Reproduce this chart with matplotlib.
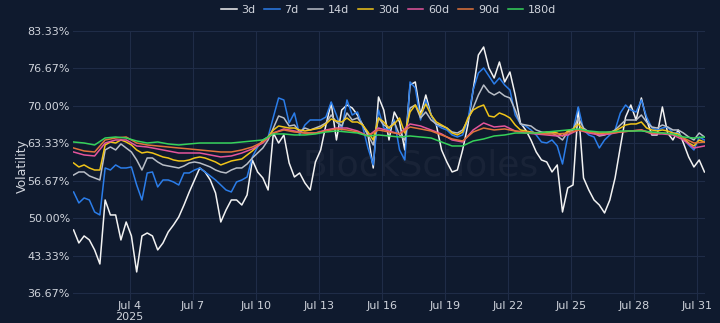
import pandas as pd
import matplotlib
matplotlib.use("Agg")
import matplotlib.pyplot as plt

# implied volatility by tenor, July 2025 (values in %)
t6 = pd.date_range("2025-07-01 08:00", periods=121, freq="6h")
t12 = pd.date_range("2025-07-01 08:00", periods=61, freq="12h")

vol_3d = [47.89, 45.57, 46.82, 46.11, 44.33, 41.83, 53.23, 50.56, 50.56, 46.11,
          49.31, 46.82, 40.41, 46.82, 47.35, 46.82, 44.33, 45.57, 47.53, 48.78,
          50.2, 52.34, 54.66, 56.79, 58.93, 58.22, 56.79, 54.48, 49.31, 51.45,
          53.23, 53.23, 52.34, 54.12, 60.36, 58.22, 57.15, 55.01, 65.16, 63.38,
          64.81, 59.82, 57.33, 58.04, 56.26, 55.01, 60.0, 62.14, 66.59, 70.51,
          63.92, 69.26, 70.15, 69.62, 68.37, 66.59, 64.81, 58.93, 71.58, 69.26,
          63.92, 68.9, 67.12, 62.14, 73.71, 74.25, 68.37, 71.93, 68.37, 66.59,
          62.14, 60.0, 58.22, 58.57, 62.14, 66.59, 72.82, 79.06, 80.48, 76.74,
          74.96, 77.81, 74.25, 76.03, 71.93, 66.95, 65.7, 63.92, 61.78, 60.36,
          60.0, 58.22, 59.47, 51.09, 55.37, 55.9, 69.62, 57.15, 55.01, 53.23,
          52.34, 50.92, 53.23, 57.15, 62.67, 68.01, 70.15, 67.48, 71.4, 67.48,
          64.81, 64.81, 69.8, 65.16, 63.92, 65.7, 63.38, 60.89, 59.11, 60.36,
          58.22]
vol_7d = [54.66, 52.7, 53.59, 53.23, 51.09, 50.56, 58.93, 58.57, 59.47, 58.93,
          58.93, 59.11, 55.9, 53.23, 58.04, 58.22, 55.55, 56.79, 56.79, 56.44,
          55.9, 58.04, 58.04, 58.57, 58.93, 58.22, 57.51, 56.79, 55.9, 55.01,
          54.66, 56.44, 56.79, 57.33, 60.89, 62.67, 63.92, 64.45, 68.01, 71.4,
          71.04, 66.95, 68.73, 64.81, 66.59, 67.48, 67.48, 67.48, 68.01, 70.69,
          68.37, 65.7, 71.04, 68.37, 68.9, 66.23, 62.49, 59.47, 69.26, 66.05,
          65.7, 67.48, 62.14, 60.36, 74.25, 73.18, 67.48, 71.04, 68.37, 66.59,
          66.05, 65.7, 64.81, 64.45, 64.81, 67.48, 72.82, 75.85, 76.74, 75.32,
          73.89, 74.96, 73.71, 72.82, 68.37, 66.77, 66.41, 65.7, 64.81, 63.56,
          63.38, 63.92, 62.85, 59.64, 64.63, 65.7, 69.8, 65.7, 64.81, 64.45,
          62.49, 63.92, 64.81, 65.7, 68.73, 70.15, 69.26, 68.9, 71.04, 68.01,
          66.05, 65.7, 66.05, 66.23, 65.16, 65.16, 64.27, 63.03, 62.14, 64.45,
          63.92]
vol_14d = [57.68, 58.22, 58.22, 57.51, 57.15, 56.79, 62.14, 62.67, 62.14, 63.21,
           62.49, 61.78, 60.36, 58.57, 60.71, 60.71, 60.0, 59.47, 59.29, 59.11,
           58.93, 59.29, 59.82, 60.0, 59.82, 59.47, 59.11, 58.57, 58.22, 58.04,
           58.57, 58.93, 58.93, 59.64, 60.71, 61.6, 62.49, 63.92, 66.05, 68.19,
           67.84, 66.41, 66.59, 65.34, 66.05, 65.7, 66.05, 66.41, 66.95, 68.37,
           67.12, 66.41, 68.73, 67.48, 67.84, 66.59, 64.81, 63.03, 67.84, 66.59,
           66.05, 67.12, 64.81, 63.92, 69.62, 70.15, 67.84, 68.9, 67.48, 66.77,
           66.41, 66.05, 65.34, 65.16, 65.7, 67.48, 69.62, 71.93, 73.71, 72.47,
           71.93, 72.47, 71.75, 71.4, 69.26, 66.77, 66.59, 66.41, 65.7, 65.34,
           65.16, 65.16, 64.63, 63.92, 65.34, 65.7, 67.84, 66.05, 65.34, 65.16,
           64.63, 64.81, 65.16, 65.7, 66.59, 67.48, 67.48, 67.48, 68.37, 67.12,
           66.23, 66.05, 66.59, 66.23, 65.7, 65.7, 65.16, 64.45, 63.92, 65.16,
           64.45]
vol_30d = [59.82, 59.11, 59.47, 58.93, 58.57, 58.57, 63.03, 63.56, 63.38, 63.92,
           63.56, 63.03, 62.14, 61.6, 61.78, 61.6, 61.25, 60.89, 60.71, 60.36,
           60.18, 60.18, 60.36, 60.71, 60.89, 60.71, 60.36, 60.0, 59.47, 59.82,
           60.18, 60.36, 60.53, 61.25, 61.96, 62.85, 63.74, 64.45, 65.7, 66.41,
           66.23, 66.05, 66.05, 65.7, 65.52, 65.7, 65.88, 66.05, 66.77, 67.66,
           67.3, 67.12, 67.84, 67.12, 67.12, 66.59, 65.34, 63.92, 67.84, 67.12,
           66.05, 66.77, 67.84, 65.16, 68.9, 70.15, 68.37, 70.33, 68.37, 67.12,
           66.59, 66.05, 65.16, 64.81, 65.34, 67.84, 69.26, 69.8, 70.15, 68.19,
           68.01, 68.73, 68.37, 67.84, 66.59, 65.7, 65.52, 65.34, 65.16, 65.16,
           65.34, 65.34, 65.16, 64.63, 65.52, 65.88, 66.77, 65.7, 65.34, 65.34,
           64.99, 65.16, 65.34, 65.52, 66.05, 66.59, 66.77, 66.77, 67.12, 66.05,
           65.7, 65.52, 65.7, 65.52, 65.16, 64.99, 64.27, 63.38, 62.85, 63.92,
           63.56]
vol_60d = [61.78, 61.25, 61.07, 63.38, 63.92, 63.92, 62.85, 62.67, 62.32, 61.96,
           61.6, 61.6, 61.6, 61.25, 60.89, 61.07, 61.6, 62.32, 63.38, 65.16,
           65.88, 65.52, 65.16, 65.16, 65.7, 66.05, 66.05, 65.52, 64.63, 66.05,
           65.52, 64.99, 66.77, 66.41, 65.7, 64.99, 63.92, 63.56, 65.7, 66.95,
           66.23, 66.41, 65.52, 65.16, 64.99, 64.81, 64.63, 64.81, 65.7, 65.16,
           64.81, 64.99, 65.34, 65.52, 65.7, 64.99, 64.99, 64.81, 63.92, 62.49,
           62.85]
vol_90d = [62.49, 61.96, 61.78, 63.92, 64.27, 64.45, 63.38, 63.03, 62.85, 62.67,
           62.49, 62.32, 62.14, 61.96, 61.78, 61.78, 62.14, 62.67, 63.56, 65.16,
           65.7, 65.34, 65.16, 65.16, 65.52, 65.88, 65.7, 65.34, 64.63, 65.7,
           65.34, 64.99, 66.23, 65.88, 65.52, 64.81, 64.1, 63.74, 65.34, 66.05,
           65.7, 65.88, 65.52, 65.34, 65.16, 64.99, 64.99, 65.16, 65.7, 65.34,
           65.16, 65.16, 65.34, 65.52, 65.7, 65.16, 65.16, 64.99, 64.27, 63.38,
           63.56]
vol_180d = [63.56, 63.38, 63.03, 64.27, 64.45, 64.27, 63.74, 63.38, 63.56, 63.21,
            63.03, 63.21, 63.38, 63.38, 63.38, 63.38, 63.56, 63.74, 63.92, 64.99,
            64.99, 64.81, 64.81, 64.99, 65.34, 65.52, 65.34, 65.16, 64.63, 64.81,
            64.63, 64.45, 64.63, 64.45, 64.27, 63.56, 62.85, 62.85, 63.74, 64.1,
            64.63, 64.81, 65.16, 65.16, 65.16, 65.34, 65.52, 65.7, 65.88, 65.52,
            65.34, 65.34, 65.52, 65.52, 65.52, 65.34, 65.16, 64.99, 64.45, 64.27,
            64.45]

series = [
    ("3d", t6, vol_3d, "#f2f2f2"),
    ("7d", t6, vol_7d, "#2b7de9"),
    ("14d", t6, vol_14d, "#b9bec7"),
    ("30d", t6, vol_30d, "#f0c419"),
    ("60d", t12, vol_60d, "#e5559c"),
    ("90d", t12, vol_90d, "#e2743a"),
    ("180d", t12, vol_180d, "#36d25a"),
]

yticks = [36.67, 43.33, 50.00, 56.67, 63.33, 70.00, 76.67, 83.33]
xtick_days = [4, 7, 10, 13, 16, 19, 22, 25, 28, 31]

bg = "#0f1a2e"
grid = "#1f2c47"
txt = "#d0d4dc"

fig = plt.figure(figsize=(7.2, 3.23), dpi=100, facecolor=bg)
ax = fig.add_axes([0.101, 0.071, 0.878, 0.833])
ax.set_facecolor(bg)

for name, t, v, c in series:
    ax.plot(t, v, color=c, lw=1.1, label=name)

# faint watermark
ax.text(0.55, 0.5, "BlockScholes", transform=ax.transAxes, fontsize=26,
        color="#ffffff", alpha=0.045, ha="center", va="center", zorder=0)

ax.set_ylim(35.4, 83.33)
ax.set_yticks(yticks)
ax.set_yticklabels([f"{y:.2f}%" for y in yticks])
ax.set_xlim(pd.Timestamp("2025-07-01 07:00"), pd.Timestamp("2025-07-31 08:30"))
xt = [pd.Timestamp(2025, 7, d) for d in xtick_days]
ax.set_xticks(xt)
ax.set_xticklabels(["Jul 4\n2025"] + [f"Jul {d}" for d in xtick_days[1:]],
                   linespacing=1.1)

ax.grid(True, color=grid, lw=0.8)
ax.set_axisbelow(True)
for s in ax.spines.values():
    s.set_visible(False)
ax.tick_params(colors=txt, labelsize=8, length=0)
ax.tick_params(axis="x", pad=1)
ax.tick_params(axis="y", pad=2)
ax.set_ylabel("Volatility", color=txt, fontsize=9)
ax.yaxis.set_label_coords(-0.07, 0.5)

leg = fig.legend(loc="upper center", bbox_to_anchor=(0.54, 1.015), ncol=7,
                 frameon=False, fontsize=8, handlelength=1.4, handletextpad=0.4,
                 columnspacing=0.8)
for t in leg.get_texts():
    t.set_color(txt)

fig.savefig("out.png", dpi=100, facecolor=bg)
